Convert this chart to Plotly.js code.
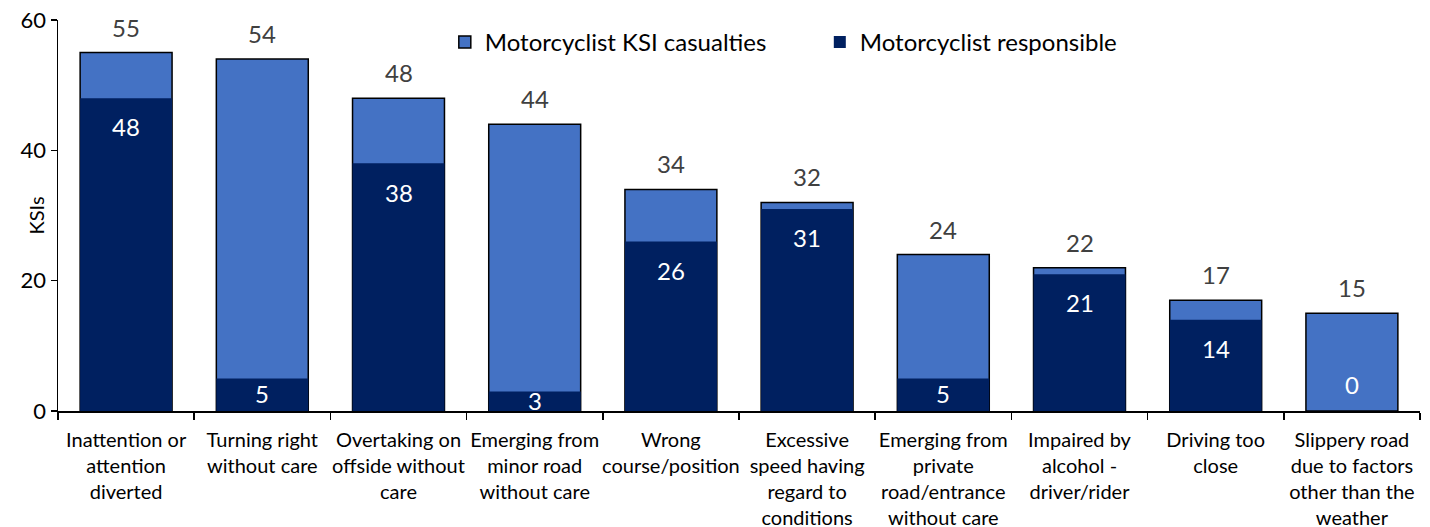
<!DOCTYPE html>
<html><head><meta charset="utf-8">
<script src="https://cdn.plot.ly/plotly-3.0.1.min.js"></script>
<style>body{margin:0;background:#fff}#c{width:1430px;height:527px}</style>
</head><body><div id="c"></div>
<script>
const categories = [
  "Inattention or<br>attention<br>diverted",
  "Turning right<br>without care",
  "Overtaking on<br>offside without<br>care",
  "Emerging from<br>minor road<br>without care",
  "Wrong<br>course/position",
  "Excessive<br>speed having<br>regard to<br>conditions",
  "Emerging from<br>private<br>road/entrance<br>without care",
  "Impaired by<br>alcohol -<br>driver/rider",
  "Driving too<br>close",
  "Slippery road<br>due to factors<br>other than the<br>weather"
];
const ksiCasualties = [55, 54, 48, 44, 34, 32, 24, 22, 17, 15];
const motorcyclistResponsible = [48, 5, 38, 3, 26, 31, 5, 21, 14, 0];

const FONT = "Lato, 'Open Sans', sans-serif";
const light = "#4472C4", dark = "#002060";

const traces = [
  {type:'bar', name:'Motorcyclist KSI casualties', x:categories, y:ksiCasualties,
   marker:{color:light, line:{color:'#000', width:1.5}}, hoverinfo:'none'},
  {type:'bar', name:'Motorcyclist responsible', x:categories, y:motorcyclistResponsible,
   marker:{color:dark, line:{width:0}}, hoverinfo:'none'}
];

const annotations = [];
categories.forEach((c,i)=>{
  annotations.push({x:c, y:ksiCasualties[i], text:String(ksiCasualties[i]), showarrow:false,
    yanchor:'bottom', yshift:9, font:{family:FONT, size:24, color:'#404040'}});
  const r = motorcyclistResponsible[i];
  const ly = r >= 10 ? r - 4.4 : (r === 0 ? 4 : r*0.55);
  annotations.push({x:c, y:ly, text:String(r), showarrow:false, yanchor:'middle',
    font:{family:FONT, size:24, color:'#fff'}});
});
annotations.push({xref:'paper', yref:'paper', x:(35-58)/1362, y:0.5, xanchor:'center', yanchor:'middle',
  text:'KSIs', textangle:-90, showarrow:false, font:{family:FONT, size:20, color:'#000'}});

const layout = {
  width:1430, height:527,
  margin:{l:58, r:10, t:20, b:116},
  paper_bgcolor:'#fff', plot_bgcolor:'#fff',
  barmode:'overlay', bargap:0.325,
  showlegend:true,
  legend:{orientation:'h', x:0.284, y:1.0, xanchor:'left', yanchor:'top',
    font:{family:FONT, size:24, color:'#000'}, entrywidth:330, entrywidthmode:'pixels',
    bgcolor:'rgba(0,0,0,0)', traceorder:'normal'},
  xaxis:{type:'category', showline:true, linecolor:'#000', linewidth:1.5,
    ticks:'outside', tickson:'boundaries', ticklen:7, tickcolor:'#000', tickwidth:1.5,
    ticklabelstandoff:10,
    tickfont:{family:FONT, size:20, color:'#000'}, showgrid:false, zeroline:false, tickangle:0},
  yaxis:{range:[0,60], dtick:20, showline:true, linecolor:'#000', linewidth:1.5,
    ticks:'outside', ticklen:6, tickcolor:'#000', tickwidth:1.5, showgrid:false, zeroline:false,
    tickfont:{family:FONT, size:22, color:'#000'}},
  annotations:annotations,
  font:{family:FONT}
};
Plotly.newPlot('c', traces, layout, {displayModeBar:false, staticPlot:true});
</script></body></html>
